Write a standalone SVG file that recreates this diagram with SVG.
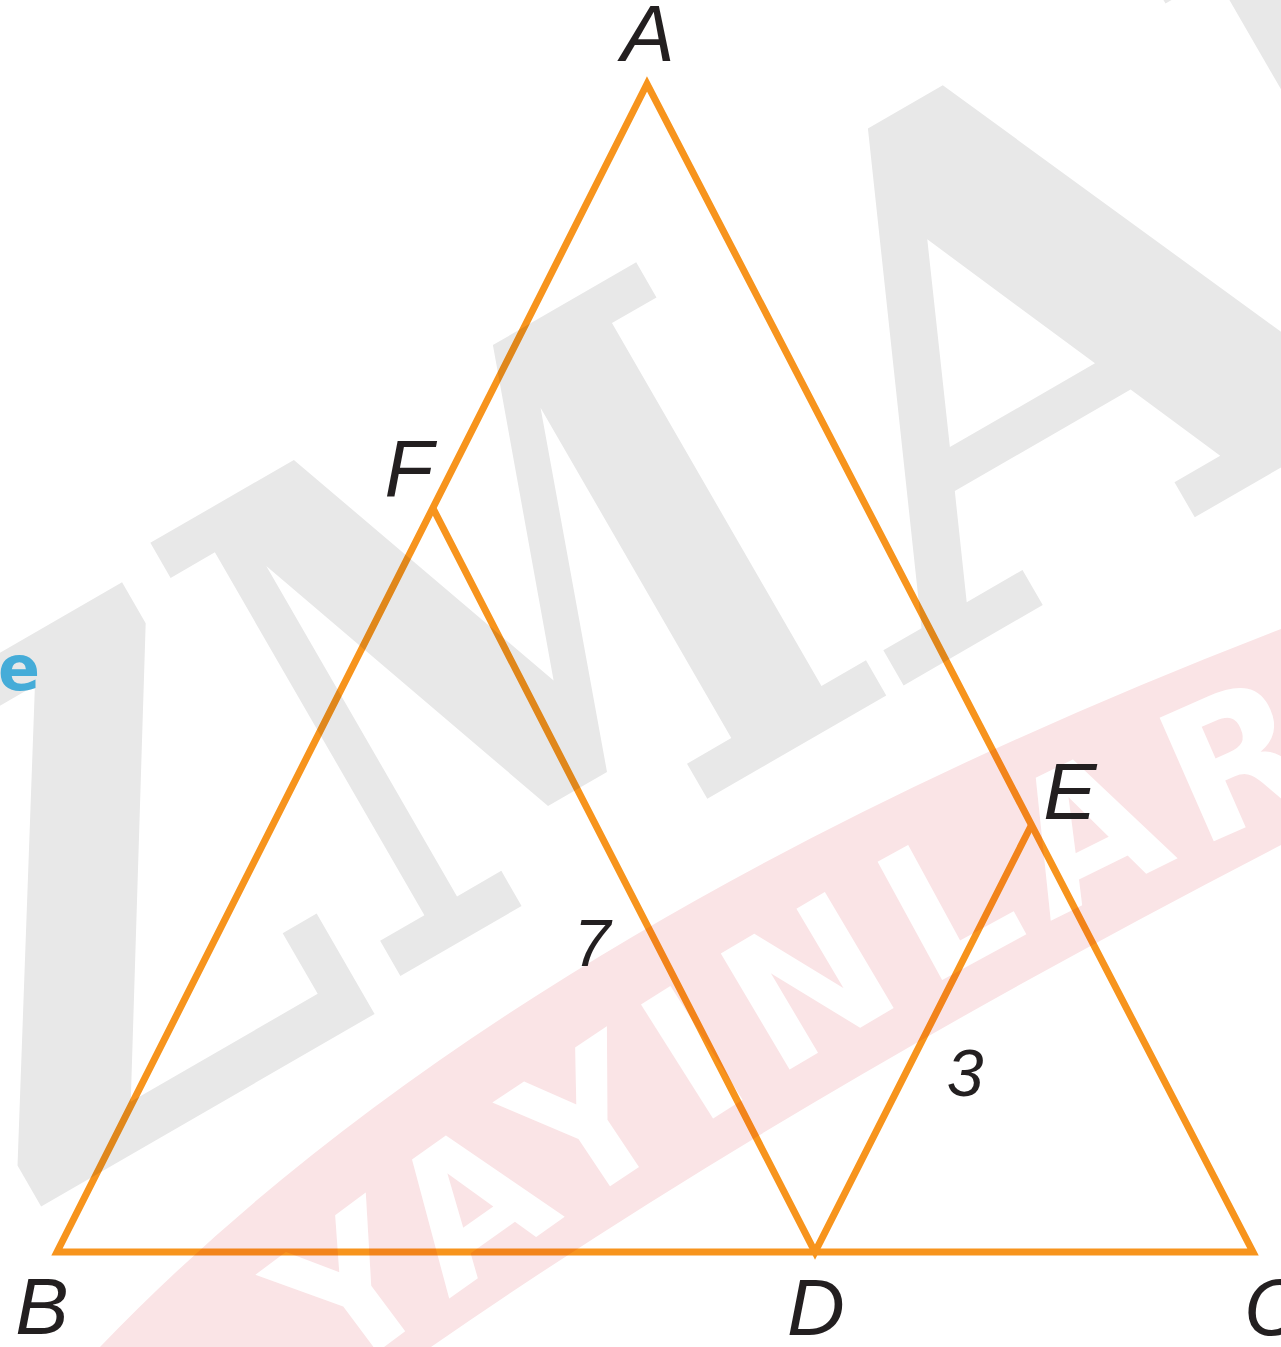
<svg xmlns="http://www.w3.org/2000/svg" width="1281" height="1347" viewBox="0 0 1281 1347">
<style>
.seg{fill:none;stroke:#F7941D;stroke-width:7;stroke-linejoin:miter;stroke-miterlimit:10}
.lbl{font-family:"Liberation Sans","DejaVu Sans",sans-serif;font-style:italic;font-size:80px;fill:#231F20;text-anchor:middle}
.num{font-family:"Liberation Sans","DejaVu Sans",sans-serif;font-style:italic;font-size:66px;fill:#231F20;text-anchor:middle}
.wm{font-family:"DejaVu Serif",serif;font-weight:bold;font-size:686px;fill:#E8E8E8}
</style>
<defs>
<path id="bandBase" d="M200,1490 Q784,1020 1320,795"/>
</defs>
<rect x="0" y="0" width="1281" height="1347" fill="#FFFFFF"/>
<g id="connectors">
<polygon class="seg" points="647,84 57,1252 1253,1252"/>
<polyline class="seg" points="432.8,508 815,1252 1031.5,825"/>
</g>
<g id="watermark" style="mix-blend-mode:multiply">
<path d="M100,1347 Q500,930 1281,629 L1281,845 Q784,1102 431,1347 Z" fill="#FAE4E6"/>
<g transform="translate(402,975) rotate(-30)">
<text class="wm" x="-450" y="20" textLength="428" lengthAdjust="spacingAndGlyphs">Z</text>
<text class="wm" x="-25" y="0" textLength="610" lengthAdjust="spacingAndGlyphs">M</text>
<text class="wm" x="585" y="0" textLength="575" lengthAdjust="spacingAndGlyphs">A</text>
<text class="wm" x="1120" y="0" textLength="560" lengthAdjust="spacingAndGlyphs">N</text>
</g>
<text font-family="DejaVu Sans, sans-serif" font-weight="bold" font-size="185" letter-spacing="22" fill="#FFFFFF"><textPath href="#bandBase" startOffset="175">YAYINLAR</textPath></text>
</g>
<text x="-2" y="690" font-family="DejaVu Sans, sans-serif" font-weight="bold" font-size="62" fill="#45ACD8">e</text>
<g id="node-A"><text class="lbl" x="648" y="61">A</text></g>
<g id="node-F"><text class="lbl" x="409" y="496">F</text></g>
<g id="node-E"><text class="lbl" x="1070" y="819">E</text></g>
<g id="node-B"><text class="lbl" x="42" y="1334">B</text></g>
<g id="node-D"><text class="lbl" x="816" y="1335">D</text></g>
<g id="node-C"><text class="lbl" x="1273" y="1335">C</text></g>
<g id="label-7"><text class="num" x="592" y="966">7</text></g>
<g id="label-3"><text class="num" x="965" y="1096">3</text></g>
</svg>
